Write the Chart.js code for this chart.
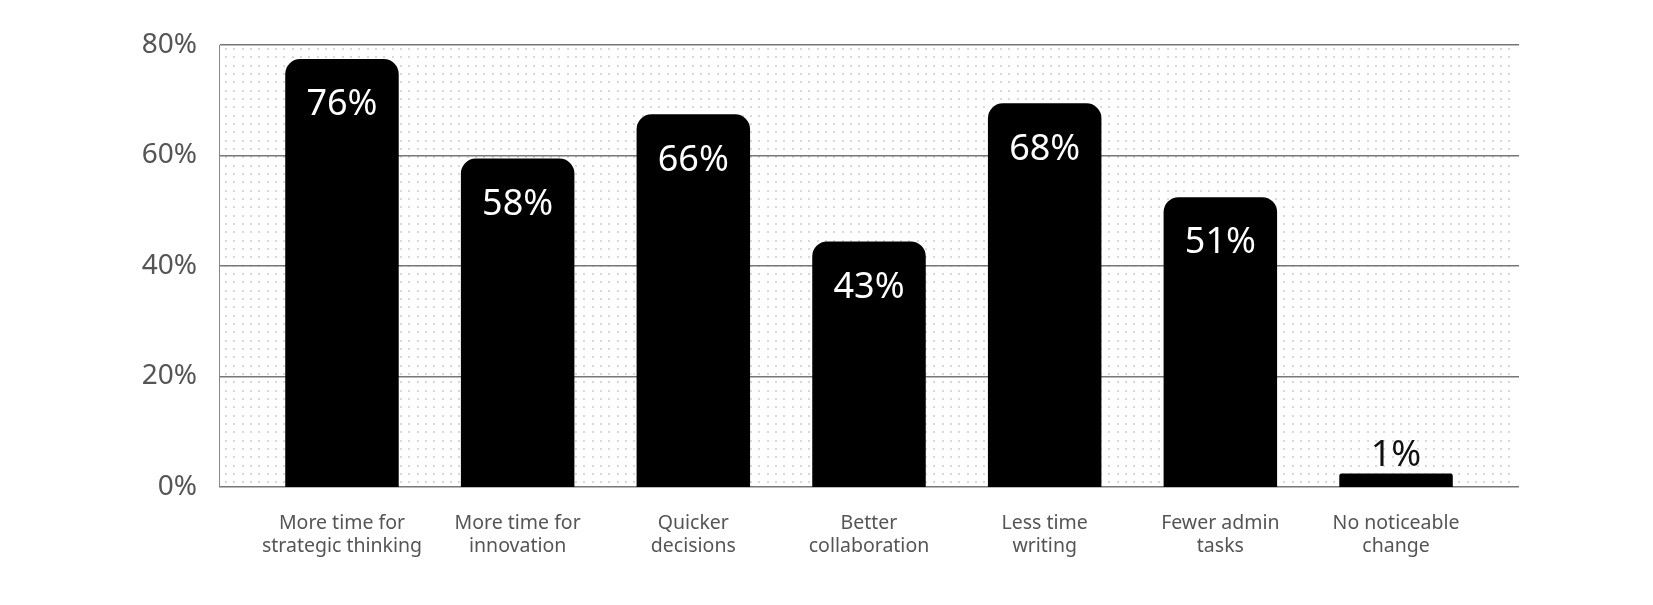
<!DOCTYPE html>
<html>
<head>
<meta charset="utf-8">
<title>Benefits chart</title>
<script src="https://cdn.jsdelivr.net/npm/chart.js@4.4.1/dist/chart.umd.min.js"></script>
<style>
  html, body { margin: 0; padding: 0; background: #fff; }
  #wrap { width: 1653px; height: 605px; }
</style>
</head>
<body>
<div id="wrap"><canvas id="myChart" width="1653" height="605"></canvas></div>
<script>
const categories = [
    ['More time for', 'strategic thinking'],
    ['More time for', 'innovation'],
    ['Quicker', 'decisions'],
    ['Better', 'collaboration'],
    ['Less time', 'writing'],
    ['Fewer admin', 'tasks'],
    ['No noticeable', 'change']
];
const values = [76, 58, 66, 43, 68, 51, 1];
const yTicks = [0, 20, 40, 60, 80];

Chart.defaults.font.family = '"Noto Sans", sans-serif';

// dotted paper behind the plot area
const dottedBackground = {
    id: 'dottedBackground',
    beforeDraw(chart) {
        const { ctx, chartArea: a } = chart;
        ctx.save();
        ctx.fillStyle = '#fff';
        ctx.fillRect(0, 0, chart.width, chart.height);
        ctx.fillStyle = '#d9d9d9';
        const step = 25 / 3;
        for (let y = a.top + 4; y < a.bottom - 2; y += step) {
            for (let x = a.left + 7; x < a.right - 4; x += step) {
                ctx.fillRect(Math.round(x) - 1, Math.round(y) - 1, 2, 2);
            }
        }
        ctx.restore();
    }
};

// value labels: white inside tall bars, dark above short ones
const barLabels = {
    id: 'barLabels',
    afterDatasetsDraw(chart) {
        const { ctx } = chart;
        const meta = chart.getDatasetMeta(0);
        ctx.save();
        ctx.font = '36px "Noto Sans"';
        ctx.textAlign = 'center';
        ctx.textBaseline = 'middle';
        meta.data.forEach((bar, i) => {
            const text = values[i] + '%';
            if (bar.base - bar.y > 60) {
                ctx.fillStyle = '#fff';
                ctx.fillText(text, bar.x, bar.y + 38);
            } else {
                ctx.fillStyle = '#111';
                ctx.fillText(text, bar.x, bar.y - 26);
            }
        });
        ctx.restore();
    }
};

const ctx = document.getElementById('myChart').getContext('2d');
const myChart = new Chart(ctx, {
    type: 'bar',
    data: {
        datasets: [{
            data: values.map((v, i) => ({ x: i, y: v })),
            backgroundColor: '#000',
            borderRadius: 15,
            borderSkipped: 'start',
            inflateAmount: 8,
            barPercentage: 0.555,
            categoryPercentage: 1,
            clip: { left: false, top: false, right: false, bottom: 0 }
        }]
    },
    options: {
        responsive: false,
        animation: false,
        layout: { padding: { left: 100, right: 134, top: 45, bottom: 0 } },
        plugins: {
            legend: { display: false },
            tooltip: { enabled: false }
        },
        scales: {
            x: {
                type: 'linear',
                min: -0.7,
                max: 6.7,
                offset: false,
                grid: { display: false },
                border: { display: false },
                afterBuildTicks: scale => {
                    scale.ticks = categories.map((c, i) => ({ value: i }));
                },
                afterFit: scale => { scale.height = 118; },
                ticks: {
                    autoSkip: false,
                    maxRotation: 0,
                    padding: 17,
                    color: '#555',
                    font: { size: 19.5, lineHeight: 1.17 },
                    callback: v => categories[v]
                }
            },
            y: {
                min: 0,
                max: 80,
                afterBuildTicks: scale => {
                    scale.ticks = yTicks.map(v => ({ value: v }));
                },
                afterFit: scale => { scale.width = 119; },
                grid: { color: '#777', lineWidth: 1.5, drawTicks: false },
                border: { display: true, color: '#888', width: 1 },
                ticks: {
                    padding: 22,
                    color: '#555',
                    font: { size: 28 },
                    callback: v => v + '%'
                }
            }
        }
    },
    plugins: [dottedBackground, barLabels]
});
</script>
</body>
</html>
